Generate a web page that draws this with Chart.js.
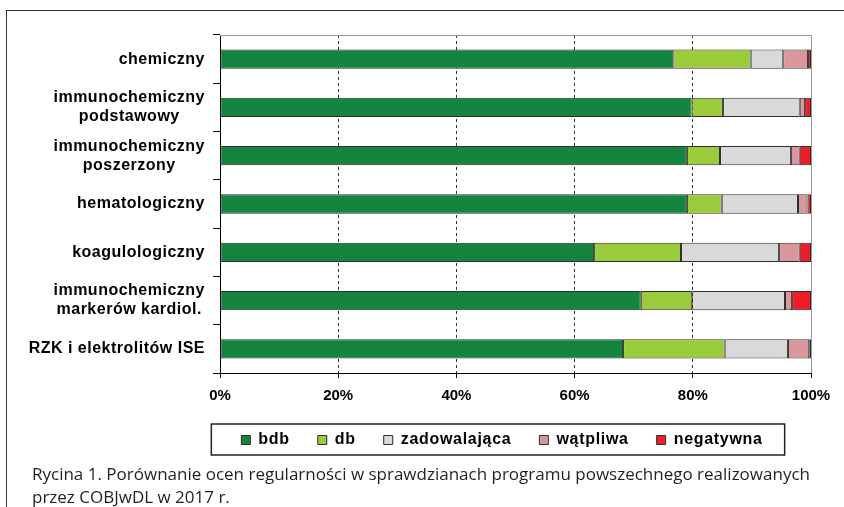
<!DOCTYPE html>
<html lang="pl">
<head>
<meta charset="utf-8">
<script src="https://cdn.jsdelivr.net/npm/chart.js@4/dist/chart.umd.min.js"></script>
<style>
  body { margin: 0; background: #fff; }
  #page { position: relative; width: 844px; height: 507px; overflow: hidden; }
  #frame {
    position: absolute; left: 6px; top: 10px; width: 900px; height: 600px;
    border-left: 1px solid #333; border-top: 1px solid #333;
  }
  #wrap { position: absolute; left: 0; top: 0; width: 844px; height: 507px; }
  #caption {
    position: absolute; left: 32px; top: 462px; width: 800px;
    font-family: "Open Sans", sans-serif;
    font-size: 17px; line-height: 23px; color: #231f20;
  }
</style>
</head>
<body>
<div id="page">
  <div id="frame"></div>
  <div id="wrap"><canvas id="myChart"></canvas></div>
  <div id="caption">Rycina 1. Porównanie ocen regularności w sprawdzianach programu powszechnego realizowanych<br>przez COBJwDL w 2017 r.</div>
</div>
<script>
const categories = [
  "chemiczny",
  ["immunochemiczny", "podstawowy"],
  ["immunochemiczny", "poszerzony"],
  "hematologiczny",
  "koagulologiczny",
  ["immunochemiczny", "markerów kardiol."],
  "RZK i elektrolitów ISE",
];

const bdb = [76.7, 79.8, 79.0, 79.0, 63.3, 71.2, 68.2];
const db = [13.1, 5.3, 5.6, 5.9, 14.7, 8.7, 17.2];
const zadowalajaca = [5.5, 13.0, 12.0, 12.9, 16.6, 15.7, 10.7];
const watpliwa = [4.2, 0.9, 1.5, 1.6, 3.5, 1.2, 3.6];
const negatywna = [0.5, 1.0, 1.9, 0.6, 1.9, 3.2, 0.3];

const xTicks = [0, 20, 40, 60, 80, 100];

const seriesColors = {
  bdb: "#14843f",
  db: "#9bcb3b",
  zadowalajaca: "#d9d9d9",
  watpliwa: "#d9979c",
  negatywna: "#ee1d27",
};

const labelFont = '"Liberation Sans", Arial, sans-serif';

// Category labels: each block right-aligned, its lines centred on each other
const yLabelPlugin = {
  id: "yLabels",
  afterDraw(chart) {
    const { ctx } = chart;
    const y = chart.scales.y;
    const right = y.right - 15;

    ctx.save();
    ctx.font = `bold 16px ${labelFont}`;
    ctx.letterSpacing = "0.5px";
    ctx.fillStyle = "#000";
    ctx.textAlign = "center";
    ctx.textBaseline = "middle";

    categories.forEach((label, i) => {
      const lines = Array.isArray(label) ? label : [label];
      const blockWidth = Math.max(...lines.map((l) => ctx.measureText(l).width));
      const cx = right - blockWidth / 2;
      const yc = y.getPixelForValue(i);

      lines.forEach((line, j) => {
        ctx.fillText(line, cx, yc + (j - (lines.length - 1) / 2) * 19);
      });
    });

    ctx.restore();
  },
};

// Grey top and right border of the plot area, plus the box round the legend
const framePlugin = {
  id: "frames",
  afterInit(chart) {
    // The legend text in the original is slightly letter-spaced
    const legend = chart.legend;
    const spaced = (fn) =>
      function (...args) {
        const prev = this.ctx.letterSpacing;
        this.ctx.letterSpacing = "0.7px";
        const result = fn.apply(this, args);
        this.ctx.letterSpacing = prev;
        return result;
      };
    legend.fit = spaced(legend.fit);
    legend.draw = spaced(legend.draw);
  },
  afterLayout(chart) {
    const legend = chart.legend;
    // Move the legend under the plot, a little left of centre like the original
    legend.left = 200;
    legend.right = 804;
    legend.width = 604;
    legend.top = 404;
    legend.bottom = 460;
    legend.height = 56;
  },
  beforeDatasetsDraw(chart) {
    const { ctx, chartArea } = chart;
    ctx.save();
    ctx.strokeStyle = "#9a9a9a";
    ctx.lineWidth = 1;
    ctx.beginPath();
    ctx.moveTo(chartArea.left, chartArea.top + 0.5);
    ctx.lineTo(chartArea.right + 0.5, chartArea.top + 0.5);
    ctx.lineTo(chartArea.right + 0.5, chartArea.bottom);
    ctx.stroke();
    ctx.restore();
  },
  afterDraw(chart) {
    const { ctx } = chart;
    const boxes = chart.legend.legendHitBoxes;
    if (!boxes || !boxes.length) return;

    const first = boxes[0];
    const last = boxes[boxes.length - 1];
    const left = first.left - 30;
    const right = last.left + last.width + 22;
    const top = first.top - 8;
    const bottom = first.top + first.height + 7;

    ctx.save();
    ctx.strokeStyle = "#222";
    ctx.lineWidth = 1.5;
    ctx.strokeRect(left, top, right - left, bottom - top);
    ctx.restore();
  },
};

const makeDataset = (label, data, color) => ({
  label,
  data,
  backgroundColor: color,
  borderColor: "#2e2e2e",
  borderWidth: 1,
  borderSkipped: false,
  barPercentage: 0.4,
  categoryPercentage: 1,
});

new Chart(document.getElementById("myChart"), {
  type: "bar",
  data: {
    labels: categories,
    datasets: [
      makeDataset("bdb", bdb, seriesColors.bdb),
      makeDataset("db", db, seriesColors.db),
      makeDataset("zadowalająca", zadowalajaca, seriesColors.zadowalajaca),
      makeDataset("wątpliwa", watpliwa, seriesColors.watpliwa),
      makeDataset("negatywna", negatywna, seriesColors.negatywna),
    ],
  },
  options: {
    indexAxis: "y",
    responsive: true,
    maintainAspectRatio: false,
    animation: false,
    layout: {
      padding: { left: 0, right: 33, top: 35, bottom: 40 },
    },
    scales: {
      x: {
        stacked: true,
        min: 0,
        max: 100,
        afterBuildTicks: (scale) => {
          scale.ticks = xTicks.map((value) => ({ value }));
        },
        afterFit: (scale) => {
          scale.height = 40;
        },
        ticks: {
          color: "#000",
          padding: 9,
          font: { family: labelFont, size: 15, weight: "bold" },
          callback: (value) => `${value}%`,
        },
        grid: {
          color: (context) =>
            context.tick && (context.tick.value === 0 || context.tick.value === 100)
              ? "rgba(0,0,0,0)"
              : "#333",
          tickColor: "#000",
          tickLength: 5,
          tickBorderDash: [],
          lineWidth: 1,
        },
        // in Chart.js v4 the grid line dash lives under border
        border: { display: true, color: "#000", width: 1, dash: [3, 3] },
      },
      y: {
        stacked: true,
        afterFit: (scale) => {
          scale.width = 220;
        },
        ticks: { display: false },
        grid: {
          display: true,
          offset: true,
          drawOnChartArea: false,
          drawTicks: true,
          tickLength: 7,
          color: "#000",
        },
        border: { display: true, color: "#000", width: 1 },
      },
    },
    plugins: {
      legend: {
        position: "bottom",
        align: "center",
        labels: {
          color: "#000",
          boxWidth: 9,
          boxHeight: 9,
          padding: 28,
          font: { family: labelFont, size: 16, weight: "bold" },
        },
      },
      tooltip: { enabled: false },
    },
  },
  plugins: [yLabelPlugin, framePlugin],
});
</script>
</body>
</html>
